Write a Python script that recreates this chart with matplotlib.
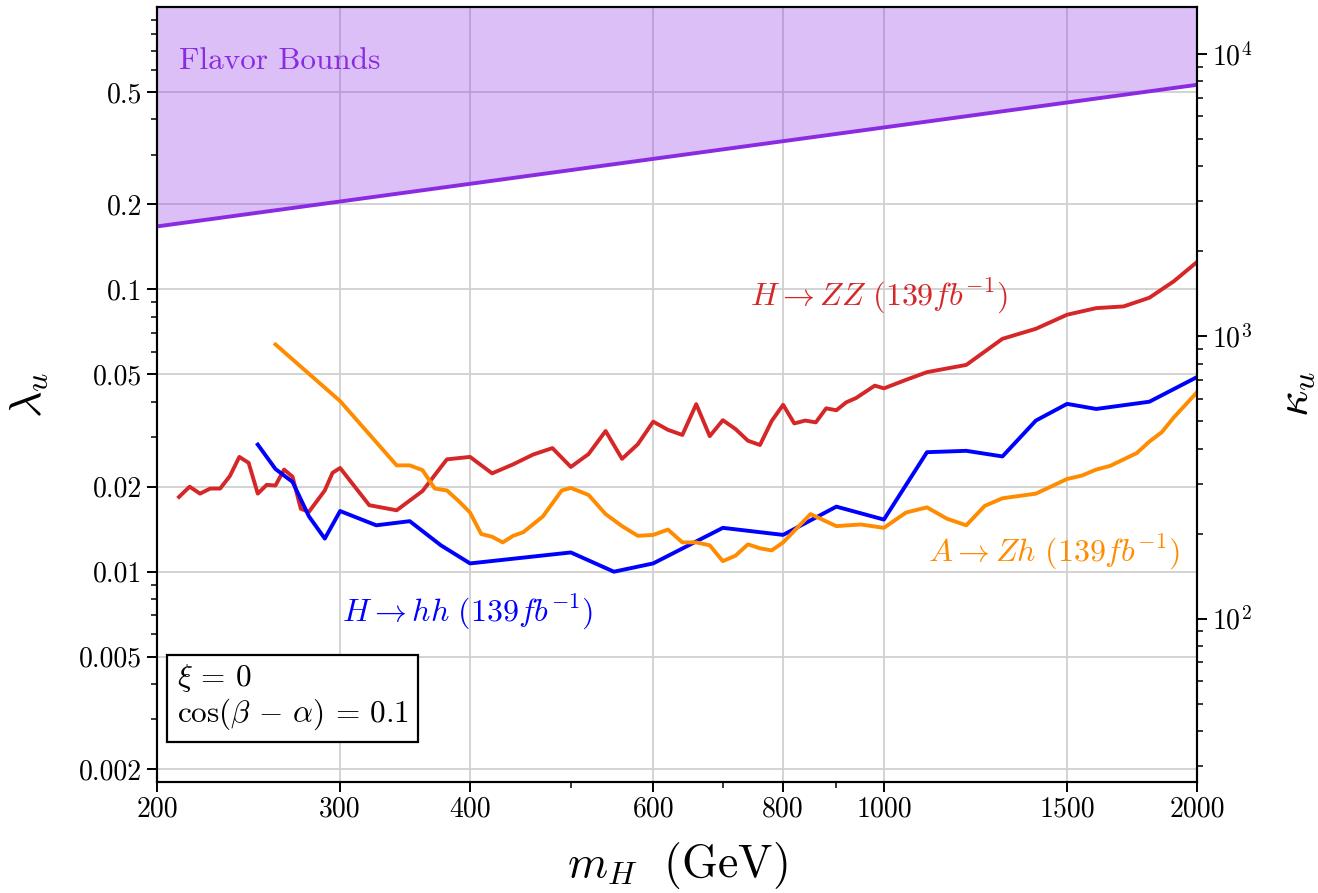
import numpy as np
import matplotlib.pyplot as plt
from matplotlib.ticker import FixedLocator, FixedFormatter, NullFormatter

plt.rcParams['font.family'] = 'serif'
plt.rcParams['font.serif'] = ['cmr10']
plt.rcParams['mathtext.fontset'] = 'cm'
plt.rcParams['axes.formatter.use_mathtext'] = True

# H -> ZZ (139 fb^-1)
m_zz = [210, 215, 220, 225, 230, 235, 240, 245, 250, 255, 260, 265, 270, 275, 280,
        290, 295, 300, 320, 340, 360, 380, 400, 420, 440, 460, 480, 500, 520, 540,
        560, 580, 600, 620, 640, 660, 680, 700, 720, 740, 760, 780, 800, 820, 840,
        860, 880, 900, 920, 940, 980, 1000, 1050, 1100, 1200, 1300, 1400, 1500,
        1600, 1700, 1800, 1900, 2000]
lam_zz = [0.0184, 0.0200, 0.0189, 0.0197, 0.0197, 0.0218, 0.0255, 0.0243, 0.0189,
          0.0203, 0.0202, 0.0230, 0.0217, 0.0167, 0.0163, 0.0194, 0.0224, 0.0233,
          0.0172, 0.0165, 0.0193, 0.0250, 0.0255, 0.0223, 0.0240, 0.0260, 0.0274,
          0.0235, 0.0261, 0.0315, 0.0251, 0.0283, 0.0340, 0.0318, 0.0305, 0.0392,
          0.0302, 0.0344, 0.0320, 0.0291, 0.0281, 0.0342, 0.0390, 0.0335, 0.0343,
          0.0338, 0.0379, 0.0373, 0.0398, 0.0412, 0.0456, 0.0446, 0.0478, 0.0509,
          0.0540, 0.0668, 0.0725, 0.0813, 0.0858, 0.0870, 0.0934, 0.1068, 0.1250]

# H -> hh (139 fb^-1)
m_hh = [250, 260, 270, 280, 290, 300, 325, 350, 375, 400, 500, 550, 600, 700, 800,
        900, 1000, 1100, 1200, 1300, 1400, 1500, 1600, 1800, 2000]
lam_hh = [0.0282, 0.0231, 0.0208, 0.0157, 0.0131, 0.0164, 0.0146, 0.0151, 0.0124,
          0.0107, 0.0117, 0.0100, 0.0107, 0.0143, 0.0135, 0.0170, 0.0153, 0.0265,
          0.0268, 0.0256, 0.0343, 0.0393, 0.0377, 0.0400, 0.0489]

# A -> Zh (139 fb^-1)
m_zh = [260, 300, 340, 350, 360, 370, 380, 390, 400, 410, 420, 430, 440, 450, 470,
        490, 500, 520, 540, 560, 580, 600, 620, 640, 660, 680, 700, 720, 740, 760,
        780, 800, 850, 900, 950, 1000, 1050, 1100, 1150, 1200, 1250, 1300, 1400,
        1500, 1550, 1600, 1650, 1750, 1800, 1850, 1900, 2000]
lam_zh = [0.0638, 0.0402, 0.0238, 0.0238, 0.0229, 0.0197, 0.0194, 0.0178, 0.0162,
          0.0136, 0.0133, 0.0127, 0.0134, 0.0138, 0.0157, 0.0194, 0.0198, 0.0187,
          0.0160, 0.0145, 0.0134, 0.0135, 0.0141, 0.0127, 0.0127, 0.0124, 0.0109,
          0.0114, 0.0125, 0.0121, 0.0119, 0.0127, 0.0160, 0.0145, 0.0147, 0.0143,
          0.0162, 0.0169, 0.0154, 0.0146, 0.0171, 0.0182, 0.0189, 0.0213, 0.0219,
          0.0230, 0.0237, 0.0263, 0.0289, 0.0312, 0.0352, 0.0432]

# flavor bound (straight line in log-log)
m_flav = [200, 2000]
lam_flav = [0.167, 0.530]

kappa_scale = 14650.0  # kappa_u / lambda_u
xticks = [200, 300, 400, 600, 800, 1000, 1500, 2000]
xticklabels = ['200', '300', '400', '600', '800', '1000', '1500', '2000']
yticks = [0.002, 0.005, 0.01, 0.02, 0.05, 0.1, 0.2, 0.5]
yticklabels = ['0.002', '0.005', '0.01', '0.02', '0.05', '0.1', '0.2', '0.5']
ylim = (0.0018, 1.0)

fig = plt.figure(figsize=(13.18, 8.93), dpi=100)
ax = fig.add_axes([0.1191, 0.1243, 0.7891, 0.8679])

ax.fill_between(m_flav, lam_flav, [10, 10], color='blueviolet', alpha=0.3, lw=0)
ax.plot(m_flav, lam_flav, color='blueviolet', lw=2.8)
ax.plot(m_zz, lam_zz, color='tab:red', lw=2.8)
ax.plot(m_hh, lam_hh, color='blue', lw=2.8)
ax.plot(m_zh, lam_zh, color='darkorange', lw=2.8)

ax.set_xscale('log')
ax.set_yscale('log')
ax.set_xlim(200, 2000)
ax.set_ylim(*ylim)

ax.xaxis.set_major_locator(FixedLocator(xticks))
ax.xaxis.set_major_formatter(FixedFormatter(xticklabels))
ax.xaxis.set_minor_formatter(NullFormatter())
ax.yaxis.set_major_locator(FixedLocator(yticks))
ax.yaxis.set_major_formatter(FixedFormatter(yticklabels))
ax.yaxis.set_minor_formatter(NullFormatter())

ax.grid(True, which='major', color='#d0d0d0', lw=1.3)
ax.set_axisbelow(True)
ax.tick_params(which='major', length=7, width=1.4, labelsize=20)
ax.tick_params(which='minor', length=4, width=1.1)
for s in ax.spines.values():
    s.set_linewidth(1.5)

ax.set_xlabel(r'$m_H\ \ (\mathrm{GeV})$', fontsize=33, labelpad=12)
ax.set_ylabel(r'$\lambda_u$', fontsize=33, labelpad=20)

ax.text(210, 0.644, 'Flavor Bounds', color='blueviolet', fontsize=22.5,
        ha='left', va='center')
ax.text(743, 0.0944, r'$H \rightarrow ZZ\ (139 fb^{-1})$', color='tab:red',
        fontsize=23, ha='left', va='center')
ax.text(1102, 0.0117, r'$A \rightarrow Zh\ (139 fb^{-1})$', color='darkorange',
        fontsize=23, ha='left', va='center')
ax.text(301, 0.00716, r'$H \rightarrow hh\ (139 fb^{-1})$', color='blue',
        fontsize=23, ha='left', va='center')

ax.text(0.019, 0.064, '$\\xi\\,=\\,0$\n$\\cos(\\beta\\,-\\,\\alpha)\\,=\\,0.1$',
        transform=ax.transAxes, fontsize=22.5, ha='left', va='bottom',
        linespacing=1.1,
        bbox=dict(boxstyle='square,pad=0.3', fc='white', ec='black', lw=1.6))

ax2 = ax.twinx()
ax2.set_yscale('log')
ax2.set_ylim(ylim[0] * kappa_scale, ylim[1] * kappa_scale)
ax2.tick_params(which='major', length=7, width=1.4, labelsize=20)
ax2.tick_params(which='minor', length=4, width=1.1)
ax2.set_ylabel(r'$\kappa_u$', fontsize=33, labelpad=18)
for s in ax2.spines.values():
    s.set_linewidth(1.5)

fig.savefig('out.png', dpi=100)
